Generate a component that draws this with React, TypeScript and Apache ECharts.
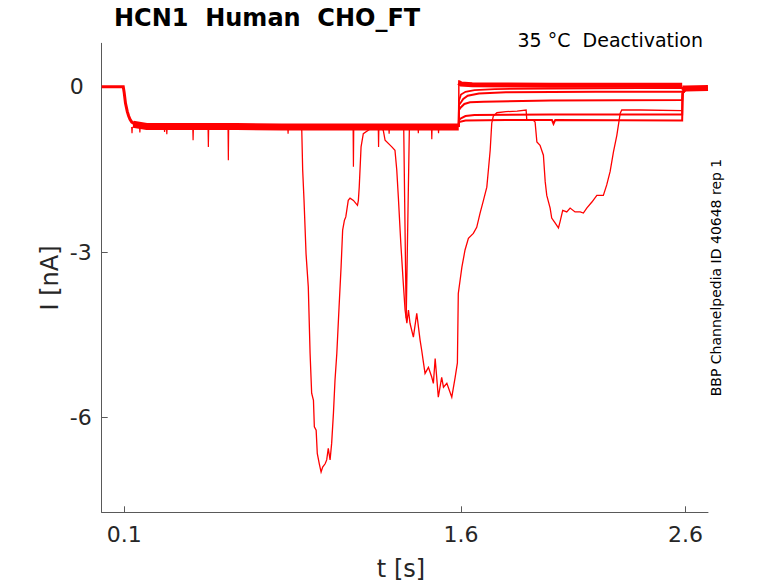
import React, { useEffect, useRef } from "react";
import * as echarts from "echarts";

type Pt = [number, number];

const xTicks = [0.1, 1.6, 2.6];
const yTicks = [0, -3, -6];

// holding at 0 then activation at the -140 mV pre-pulse
const holdTrace: Pt[] = [
  [0, 0], [0.096, 0], [0.1, -0.1], [0.106, -0.3], [0.114, -0.45], [0.12, -0.53],
  [0.126, -0.59], [0.134, -0.64], [0.145, -0.67], [0.16, -0.7], [0.2, -0.72],
];

// overlapping sweeps during the pre-pulse (noisy band)
const baseBand: Pt[] = [
  [0.14, -0.68], [0.2, -0.72], [0.4, -0.72], [0.6, -0.72], [0.8, -0.73],
  [1.0, -0.73], [1.2, -0.73], [1.4, -0.73], [1.59, -0.73],
];

// brief downward glitches below the band
const spikeTimes = [0.135, 0.17, 0.28, 0.29, 0.407, 0.475, 0.564, 0.83, 1.121, 1.233, 1.28, 1.41, 1.47, 1.5];
const spikeDepths = [-0.84, -0.83, -0.82, -0.86, -0.97, -1.09, -1.33, -0.85, -1.45, -1.09, -0.85, -0.84, -0.95, -0.84];

// overlapping sweeps that deactivate fully (top band after the step)
const stepEdge: Pt[] = [
  [1.59, -0.73], [1.5905, 0.12], [1.594, 0.06],
];
const topBand: Pt[] = [
  [1.5905, 0.08], [1.6, 0.05], [1.65, 0.04], [2.0, 0.03], [2.585, 0.03],
];
const endBand: Pt[] = [
  [2.586, -0.03], [2.6, -0.03], [2.7, -0.02],
];

// individual tail currents
const tail1: Pt[] = [
  [1.59, -0.73], [1.591, -0.25], [1.6, -0.14], [1.62, -0.09], [1.66, -0.06], [1.75, -0.04],
  [2.0, -0.03], [2.585, -0.02], [2.587, -0.05], [2.7, -0.02],
];
const tail2: Pt[] = [
  [1.59, -0.73], [1.591, -0.33], [1.6, -0.28], [1.61, -0.22], [1.63, -0.16], [1.68, -0.12],
  [1.8, -0.1], [2.2, -0.09], [2.585, -0.09], [2.587, -0.1], [2.6, -0.04], [2.7, -0.02],
];
const tail3: Pt[] = [
  [1.59, -0.73], [1.591, -0.42], [1.6, -0.37], [1.615, -0.31], [1.64, -0.28], [1.7, -0.27],
  [2.0, -0.25], [2.585, -0.24], [2.587, -0.12], [2.6, -0.05], [2.7, -0.02],
];
const tail4: Pt[] = [
  [1.59, -0.73], [1.591, -0.6], [1.6, -0.57], [1.62, -0.53], [1.66, -0.51], [2.0, -0.5],
  [2.585, -0.5], [2.587, -0.12], [2.6, -0.05], [2.7, -0.02],
];
const tail5: Pt[] = [
  [1.59, -0.73], [1.591, -0.64], [1.62, -0.61], [1.8, -0.6], [2.005, -0.6], [2.012, -0.67],
  [2.02, -0.6], [2.585, -0.61], [2.587, -0.12], [2.6, -0.05], [2.7, -0.02],
];

// sweep with the deep transient around 0.9-1.2 s
const sweepA: Pt[] = [
  [0.885, -0.74], [0.891, -0.79], [0.895, -1.51], [0.901, -2.06], [0.91, -3.03], [0.92, -3.63],
  [0.928, -4.84], [0.935, -5.56], [0.943, -5.69], [0.947, -6.17], [0.955, -6.23], [0.96, -6.65],
  [0.969, -6.84], [0.977, -6.99], [0.984, -6.9], [0.995, -6.84], [1.002, -6.77], [1.009, -6.56],
  [1.017, -6.77], [1.024, -6.47], [1.032, -5.92], [1.039, -5.32], [1.047, -4.84], [1.057, -4.0],
  [1.066, -3.27], [1.073, -2.6], [1.081, -2.42], [1.087, -2.36], [1.098, -2.06], [1.106, -2.02],
  [1.121, -2.06], [1.139, -2.15], [1.143, -2.06], [1.147, -1.81], [1.155, -1.09], [1.165, -0.85],
  [1.2, -0.75],
];

// sweep that drifts down before the step and dips again after it
const sweepB: Pt[] = [
  [1.245, -0.74], [1.254, -0.79], [1.262, -0.97], [1.292, -1.09], [1.306, -1.15], [1.314, -1.51],
  [1.321, -2.0], [1.332, -2.84], [1.343, -3.56], [1.351, -4.05], [1.359, -4.29], [1.366, -4.05],
  [1.373, -4.29], [1.388, -4.54], [1.403, -4.11], [1.418, -4.6], [1.425, -4.78], [1.433, -5.01],
  [1.44, -5.2], [1.455, -5.09], [1.47, -5.27], [1.477, -5.38], [1.485, -4.93], [1.499, -5.63],
  [1.514, -5.27], [1.522, -5.45], [1.537, -5.38], [1.559, -5.63], [1.574, -5.27], [1.584, -5.01],
  [1.588, -3.75], [1.596, -3.51], [1.604, -3.27], [1.618, -2.96], [1.633, -2.75], [1.655, -2.66],
  [1.67, -2.55], [1.685, -2.29], [1.7, -2.06], [1.715, -1.82], [1.722, -1.51], [1.73, -1.15],
  [1.737, -0.66], [1.744, -0.53], [1.76, -0.47], [1.8, -0.45], [1.85, -0.44], [1.89, -0.42],
  [1.893, -0.6], [1.92, -0.6], [1.93, -0.64], [1.938, -1.0], [1.952, -1.06], [1.967, -1.24],
  [1.975, -1.72], [1.982, -1.97], [1.997, -2.2], [2.004, -2.38], [2.019, -2.47], [2.034, -2.56],
  [2.041, -2.45], [2.053, -2.24], [2.071, -2.27], [2.086, -2.2], [2.108, -2.27], [2.131, -2.27],
  [2.145, -2.29], [2.16, -2.2], [2.183, -2.09], [2.205, -1.97], [2.234, -1.97], [2.249, -1.78],
  [2.264, -1.54], [2.279, -1.18], [2.294, -0.88], [2.309, -0.48], [2.316, -0.42], [2.4, -0.42],
  [2.585, -0.43], [2.587, -0.1], [2.6, -0.03], [2.7, -0.01],
];

// narrow spike sweep
const sweepC: Pt[] = [
  [1.345, -0.75], [1.356, -4.2], [1.37, -0.78],
];

const RED = "#ff0000";
const FONT = "DejaVu Sans";
const TXT = "#262626";

function lineSeries(data: (Pt | null)[], width: number) {
  return {
    type: "line",
    data,
    symbol: "none",
    showSymbol: false,
    silent: true,
    animation: false,
    lineStyle: { color: RED, width, cap: "butt", join: "miter" },
  };
}

export default function App() {
  const ref = useRef<HTMLDivElement>(null);

  useEffect(() => {
    if (!ref.current) return;
    const chart = echarts.init(ref.current, undefined, { renderer: "svg" });

    const spikeSeries = spikeTimes.map((t, i) =>
      lineSeries(
        [
          [t - 0.0015, -0.73],
          [t, spikeDepths[i]],
          [t + 0.0015, -0.73],
        ],
        1.2
      )
    );

    const option: any = {
      animation: false,
      backgroundColor: "#ffffff",
      grid: { left: 101.7, top: 43.3, right: 70, bottom: 70.7, containLabel: false },
      xAxis: {
        type: "value",
        min: 0,
        max: 2.7,
        axisLine: { show: true, onZero: false, lineStyle: { color: "#595959", width: 1 } },
        axisTick: { show: true, inside: true, length: 6, customValues: xTicks, lineStyle: { color: "#595959" } },
        axisLabel: {
          customValues: xTicks,
          formatter: (v: number) => v.toFixed(1),
          color: TXT,
          fontFamily: FONT,
          fontSize: 22,
          margin: 11,
        },
        splitLine: { show: false },
      },
      yAxis: {
        type: "value",
        min: -7.72,
        max: 0.79,
        axisLine: { show: true, onZero: false, lineStyle: { color: "#595959", width: 1 } },
        axisTick: { show: true, inside: true, length: 6, customValues: yTicks, lineStyle: { color: "#595959" } },
        axisLabel: {
          customValues: yTicks,
          formatter: (v: number) => String(v),
          color: TXT,
          fontFamily: FONT,
          fontSize: 22,
          align: "left",
          margin: 32,
        },
        splitLine: { show: false },
      },
      series: [
        lineSeries(holdTrace, 3),
        lineSeries(baseBand, 7),
        ...spikeSeries,
        lineSeries(sweepA, 1.3),
        lineSeries(sweepB, 1.3),
        lineSeries(sweepC, 1.3),
        lineSeries(stepEdge, 1.5),
        lineSeries(topBand, 5),
        lineSeries(endBand, 6),
        lineSeries(tail1, 1.8),
        lineSeries(tail2, 2),
        lineSeries(tail3, 2),
        lineSeries(tail4, 2),
        lineSeries(tail5, 2),
      ],
      graphic: [
        {
          type: "text",
          x: 114,
          y: 17.5,
          style: {
            text: "HCN1  Human  CHO_FT",
            font: `bold 24px "${FONT}"`,
            fill: "#000000",
            align: "left",
            verticalAlign: "middle",
          },
        },
        {
          type: "text",
          x: 703,
          y: 40,
          style: {
            text: "35 °C  Deactivation",
            font: `19px "${FONT}"`,
            fill: "#000000",
            align: "right",
            verticalAlign: "middle",
          },
        },
        {
          type: "text",
          x: 50,
          y: 278,
          rotation: Math.PI / 2,
          style: {
            text: "I [nA]",
            font: `24px "${FONT}"`,
            fill: TXT,
            align: "center",
            verticalAlign: "middle",
          },
        },
        {
          type: "text",
          x: 401,
          y: 569,
          style: {
            text: "t [s]",
            font: `24px "${FONT}"`,
            fill: TXT,
            align: "center",
            verticalAlign: "middle",
          },
        },
        {
          type: "text",
          x: 716,
          y: 277.5,
          rotation: Math.PI / 2,
          style: {
            text: "BBP Channelpedia ID 40648 rep 1",
            font: `14px "${FONT}"`,
            fill: "#000000",
            align: "center",
            verticalAlign: "middle",
          },
        },
      ],
    };

    chart.setOption(option);
    return () => chart.dispose();
  }, []);

  return (
    <div
      ref={ref}
      style={{ position: "fixed", left: 0, top: 0, width: 778, height: 583, background: "#ffffff" }}
    />
  );
}
